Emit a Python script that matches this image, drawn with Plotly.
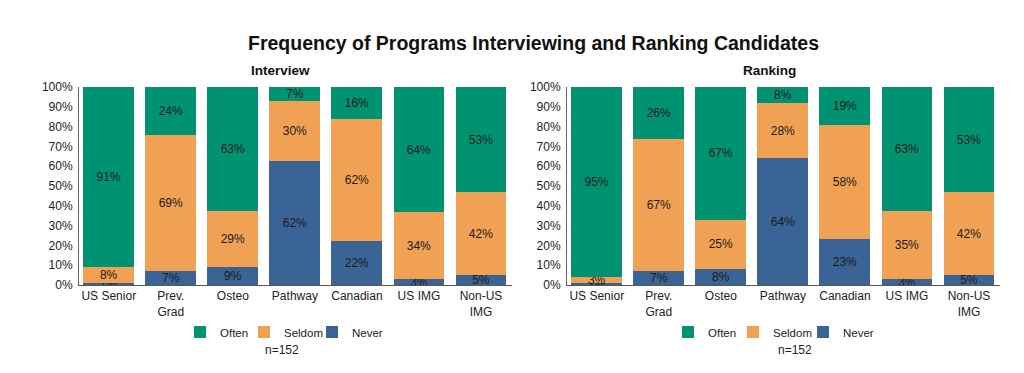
import plotly.graph_objects as go

categories = ["US Senior", "Prev.<br>Grad", "Osteo", "Pathway", "Canadian", "US IMG", "Non-US<br>IMG"]
series_names = ["Often", "Seldom", "Never"]

interview_often = [91, 24, 63, 7, 16, 64, 53]
interview_seldom = [8, 69, 29, 30, 62, 34, 42]
interview_never = [1, 7, 9, 62, 22, 3, 5]

ranking_often = [95, 26, 67, 8, 19, 63, 53]
ranking_seldom = [3, 67, 25, 28, 58, 35, 42]
ranking_never = [1, 7, 8, 64, 23, 3, 5]

y_ticks = [0, 10, 20, 30, 40, 50, 60, 70, 80, 90, 100]
y_ticklabels = [f"{v}%" for v in y_ticks]

colors = {"Often": "#009271", "Seldom": "#F0A154", "Never": "#3B6496"}
FONT = "Arial, Liberation Sans, sans-serif"
OFF = 8  # default page body margin
W, H = 1024 - 2 * OFF, 373 - 2 * OFF


def px_x(p):
    return (p - OFF) / W


def px_y(p):
    return 1 - (p - OFF) / H


fig = go.Figure()

# legend symbol centres (page px) for each series, per panel
legend_pos = {
    "left": {"Often": 204, "Seldom": 268, "Never": 336},
    "right": {"Often": 692, "Seldom": 757, "Never": 827},
}

panels = [
    ("x", "y", "left", {"Never": interview_never, "Seldom": interview_seldom, "Often": interview_often}),
    ("x2", "y2", "right", {"Never": ranking_never, "Seldom": ranking_seldom, "Often": ranking_often}),
]
legend_layout = {}
lg_index = 1
for xa, ya, side, data in panels:
    for name in ["Never", "Seldom", "Often"]:
        vals = data[name]
        lg_name = "legend" if lg_index == 1 else f"legend{lg_index}"
        legend_layout[lg_name] = dict(
            orientation="h", xanchor="left", yanchor="middle",
            x=px_x(legend_pos[side][name] - 24), y=px_y(338),
            font=dict(family=FONT, size=11.5, color="#222222"), bgcolor="rgba(0,0,0,0)",
        )
        lg_index += 1
        fig.add_trace(go.Bar(
            x=categories, y=vals, name=name, xaxis=xa, yaxis=ya, legend=lg_name,
            marker=dict(color=colors[name], line=dict(width=0)),
            text=[f"{v}%" for v in vals], textposition="inside",
            insidetextanchor="middle", constraintext="none",
            textfont=dict(family=FONT, size=12, color="#1a1a1a"),
            textangle=0, width=0.82, hoverinfo="skip",
        ))

axis_common = dict(
    showgrid=False, zeroline=False, showline=True, linecolor="#555555", linewidth=1,
    ticks="", tickfont=dict(family=FONT, size=12, color="#222222"), fixedrange=True,
)
yaxis_common = dict(
    showgrid=False, zeroline=False, showline=True, linecolor="#666666", linewidth=1,
    ticks="", range=[0, 100], tickvals=y_ticks, ticktext=y_ticklabels,
    tickfont=dict(family=FONT, size=12, color="#222222"), fixedrange=True, ticklabelstandoff=3,
)

fig.update_layout(
    width=W, height=H,
    margin=dict(l=0, r=0, t=0, b=0),
    paper_bgcolor="white", plot_bgcolor="white",
    barmode="stack", barnorm="percent",
    font=dict(family=FONT, color="#222222"),
    xaxis=dict(domain=[px_x(79), px_x(512)], range=[-0.48, 6.5], anchor="y", **axis_common),
    yaxis=dict(domain=[px_y(289), px_y(83)], anchor="x", **yaxis_common),
    xaxis2=dict(domain=[px_x(567), px_x(1000)], range=[-0.48, 6.5], anchor="y2", **axis_common),
    yaxis2=dict(domain=[px_y(289), px_y(83)], anchor="x2", **yaxis_common),
    showlegend=True,
    annotations=[
        dict(text="<b>Frequency of Programs Interviewing and Ranking Candidates</b>", x=px_x(533), y=px_y(37),
             xref="paper", yref="paper", xanchor="center", yanchor="middle", showarrow=False,
             font=dict(family=FONT, size=19.5, color="#111111")),
        dict(text="<b>Interview</b>", x=px_x(280), y=px_y(66), xref="paper", yref="paper",
             xanchor="center", yanchor="middle", showarrow=False, font=dict(family=FONT, size=13.5, color="#111111")),
        dict(text="<b>Ranking</b>", x=px_x(769), y=px_y(66), xref="paper", yref="paper",
             xanchor="center", yanchor="middle", showarrow=False, font=dict(family=FONT, size=13.5, color="#111111")),
        dict(text="n=152", x=px_x(282), y=px_y(357), xref="paper", yref="paper",
             xanchor="center", yanchor="middle", showarrow=False, font=dict(family=FONT, size=12, color="#222222")),
        dict(text="n=152", x=px_x(795), y=px_y(357), xref="paper", yref="paper",
             xanchor="center", yanchor="middle", showarrow=False, font=dict(family=FONT, size=12, color="#222222")),
    ],
    **legend_layout,
)

fig.write_html("out.html")
